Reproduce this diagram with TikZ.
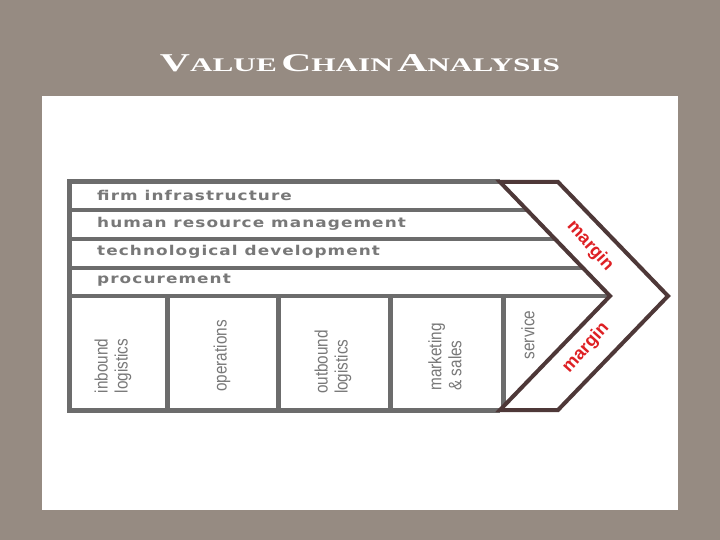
\documentclass[tikz,border=0pt]{standalone}
\usepackage{fontspec}
\usepackage{graphicx}
\usepackage{tikz}
\usetikzlibrary{calc}

\newfontfamily\rowfont[FakeStretch=1.25,LetterSpace=8]{DejaVu Sans}
\newfontfamily\colfont[FakeStretch=0.85]{Liberation Sans}
\newfontfamily\marginfont{Liberation Sans}
\newfontfamily\titlefont{Liberation Serif}

\definecolor{granite}{RGB}{150,139,130}
\definecolor{framegray}{RGB}{108,108,108}
\definecolor{labelgray}{RGB}{120,120,120}
\definecolor{chevbrown}{RGB}{78,56,56}
\definecolor{marginred}{RGB}{222,32,36}

\tikzset{
  frameline/.style={draw=framegray,line width=5pt},
  rowline/.style={draw=framegray,line width=4pt},
  chevron/.style={draw=chevbrown,line width=4pt,line join=miter,fill=white},
  rowlabel/.style={anchor=west,inner sep=0pt,text=labelgray,font=\rowfont\bfseries\fontsize{13.5}{15}\selectfont},
  collabel/.style={rotate=90,align=left,inner sep=0pt,text=labelgray,font=\colfont\fontsize{18}{20}\selectfont},
  marginlabel/.style={inner sep=0pt,text=marginred,font=\marginfont\bfseries\fontsize{18}{20}\selectfont}
}

\begin{document}
\begin{tikzpicture}[x=1pt,y=-1pt]
      \fill[granite] (0,0) rectangle (720,540);
      \fill[white] (42,96) rectangle (678,510);

      \node[anchor=base,inner sep=0pt,text=white] (title) at (360,72)
        {\resizebox{400pt}{17pt}{\titlefont\bfseries
          {\fontsize{24}{24}\selectfont V}{\fontsize{18}{18}\selectfont ALUE}
          {\fontsize{24}{24}\selectfont C}{\fontsize{18}{18}\selectfont HAIN}
          {\fontsize{24}{24}\selectfont A}{\fontsize{18}{18}\selectfont NALYSIS}}};

      \coordinate (top-in)  at (500,182);
      \coordinate (tip-in)  at (610,296);
      \coordinate (bot-in)  at (500,410);
      \coordinate (top-out) at (558,182);
      \coordinate (tip-out) at (668,296);
      \coordinate (bot-out) at (558,410);
      \coordinate (fl)      at (69,182);

      \draw[frameline] (top-in) -- (fl) -- (69,410) -- (bot-in);
      \foreach \f/\i in {.25/1,.5/2,.75/3,1/4} {
        \path ($(top-in)!\f!(tip-in)$) coordinate (r-\i);
        \draw[rowline] (r-\i -| fl) -- (r-\i);
      }
      \foreach \x in {167,278,390,503}
        \draw[frameline] (\x,296) -- (\x,410);

      \draw[chevron] (top-in) -- (top-out) -- (tip-out) -- (bot-out) -- (bot-in) -- (tip-in) -- cycle;

      \node[rowlabel] (firm)   at (97,195) {firm infrastructure};
      \node[rowlabel] (hrm)    at (97,224) {human resource management};
      \node[rowlabel] (tech)   at (97,252) {technological development};
      \node[rowlabel] (procur) at (97,280) {procurement};

      \node[collabel] (inbound)   at (113,366) {inbound\\logistics};
      \node[collabel] (ops)       at (222,356) {operations};
      \node[collabel] (outbound)  at (333,362) {outbound\\logistics};
      \node[collabel] (marketing) at (445,357) {marketing\\\& sales};
      \node[collabel] (service)   at (528,335) {service};

      \node[marginlabel,rotate=-48] (margin-top) at (590,246) {margin};
      \node[marginlabel,rotate=48]  (margin-bot) at (586,348) {margin};
\end{tikzpicture}
\end{document}
